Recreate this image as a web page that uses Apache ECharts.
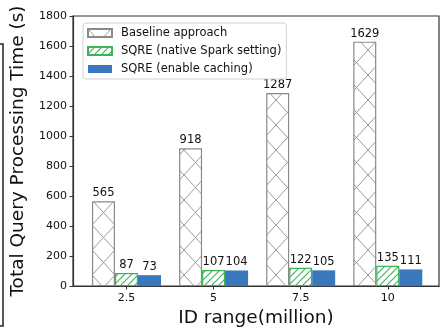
<!DOCTYPE html>
<html lang="en">
<head>
    <meta charset="UTF-8">
    <title>Query processing time</title>
    <script src="https://cdn.jsdelivr.net/npm/echarts@6/dist/echarts.min.js"></script>
    <style>
    body{margin:0;background:#fff}
    #main{width:441px;height:333px}
    </style>
</head>
<body>
<div id="main"></div>
<script type="text/javascript">
var categories = ['2.5', '5', '7.5', '10'];
var xPos = [1, 2, 3, 4];
var baseline = [565, 918, 1287, 1629];
var sqreNative = [87, 107, 122, 135];
var sqreCache = [73, 104, 105, 111];
var yTicks = [0, 200, 400, 600, 800, 1000, 1200, 1400, 1600, 1800];

// matplotlib-like hatches
function crossHatch() {
    var c = document.createElement('canvas');
    c.width = 23; c.height = 25;
    var g = c.getContext('2d');
    g.fillStyle = '#fff';
    g.fillRect(0, 0, 23, 25);
    g.strokeStyle = '#9a9a9a';
    g.lineWidth = 1;
    g.beginPath();
    g.moveTo(0, 0); g.lineTo(23, 25);
    g.moveTo(23, 0); g.lineTo(0, 25);
    g.stroke();
    return c;
}
function slashHatch() {
    var c = document.createElement('canvas');
    c.width = 7; c.height = 7;
    var g = c.getContext('2d');
    g.fillStyle = '#fff';
    g.fillRect(0, 0, 7, 7);
    g.strokeStyle = '#3cb45a';
    g.lineWidth = 1.1;
    g.beginPath();
    g.moveTo(0, 7); g.lineTo(7, 0);
    g.moveTo(-1, 1); g.lineTo(1, -1);
    g.moveTo(6, 8); g.lineTo(8, 6);
    g.stroke();
    return c;
}

function pairs(vals) {
    var out = [];
    for (var i = 0; i < vals.length; i++) out.push([xPos[i], vals[i]]);
    return out;
}

var font = 'DejaVu Sans';
var myChart = echarts.init(document.getElementById('main'));
var barLabel = {show: true, position: 'top', distance: 2, fontFamily: font, fontSize: 11.5, color: '#111'};

myChart.setOption({
    animation: false,
    backgroundColor: '#fff',
    textStyle: {fontFamily: font},
    grid: {
        left: 73, right: 2, top: 16, bottom: 46,
        show: true, borderColor: '#333', borderWidth: 1.2
    },
    legend: {
        orient: 'vertical',
        left: 83, top: 23,
        width: 204,
        padding: [4, 5, 4, 4],
        itemGap: 6,
        itemWidth: 24, itemHeight: 8,
        icon: 'rect',
        backgroundColor: 'rgba(255,255,255,0.85)',
        borderColor: '#d0d0d0', borderWidth: 1, borderRadius: 3,
        textStyle: {fontFamily: font, fontSize: 11.5, color: '#111', padding: [0, 0, 0, 4]},
        data: ['Baseline approach', 'SQRE (native Spark setting)', 'SQRE (enable caching)']
    },
    xAxis: {
        type: 'value',
        min: 0.386, max: 4.588,
        name: 'ID range(million)',
        nameLocation: 'middle',
        nameGap: 22,
        nameTextStyle: {fontFamily: font, fontSize: 18.5, color: '#111'},
        axisLine: {show: true, lineStyle: {color: '#333', width: 1.2}},
        axisTick: {show: true, length: 3.5, customValues: xPos, lineStyle: {color: '#333'}},
        axisLabel: {
            customValues: xPos, margin: 7,
            fontFamily: font, fontSize: 11, color: '#111',
            formatter: function (v) { return categories[Math.round(v) - 1]; }
        },
        splitLine: {show: false}
    },
    yAxis: {
        type: 'value',
        min: 0, max: 1800, interval: 200,
        name: 'Total Query Processing Time (s)',
        nameLocation: 'middle',
        nameGap: 44,
        nameTextStyle: {fontFamily: font, fontSize: 18.5, color: '#111'},
        axisLine: {show: true, lineStyle: {color: '#333', width: 1.2}},
        axisTick: {show: true, length: 3.5, lineStyle: {color: '#333'}},
        axisLabel: {
            margin: 6, fontFamily: font, fontSize: 11, color: '#111',
            customValues: yTicks,
            formatter: function (v) { return String(v); }
        },
        splitLine: {show: false}
    },
    graphic: [{
        type: 'polyline',
        shape: {points: [[0, 44], [3, 44], [3, 326], [0, 326]]},
        style: {stroke: '#222', lineWidth: 1.5, fill: null}
    }],
    series: [
        {
            name: 'Baseline approach',
            type: 'bar',
            barWidth: 23,
            barGap: '0%',
            data: pairs(baseline),
            itemStyle: {color: {image: crossHatch(), repeat: 'repeat'}, borderColor: '#8a8a8a', borderWidth: 1.2, borderRadius: 0},
            label: barLabel
        },
        {
            name: 'SQRE (native Spark setting)',
            type: 'bar',
            barWidth: 23,
            barGap: '0%',
            data: pairs(sqreNative),
            itemStyle: {color: {image: slashHatch(), repeat: 'repeat'}, borderColor: '#3cb45a', borderWidth: 1.2, borderRadius: 0},
            label: barLabel
        },
        {
            name: 'SQRE (enable caching)',
            type: 'bar',
            barWidth: 23,
            barGap: '0%',
            data: pairs(sqreCache),
            itemStyle: {color: '#3a78bd', borderRadius: 0},
            label: barLabel
        }
    ]
});
</script>
</body>
</html>
